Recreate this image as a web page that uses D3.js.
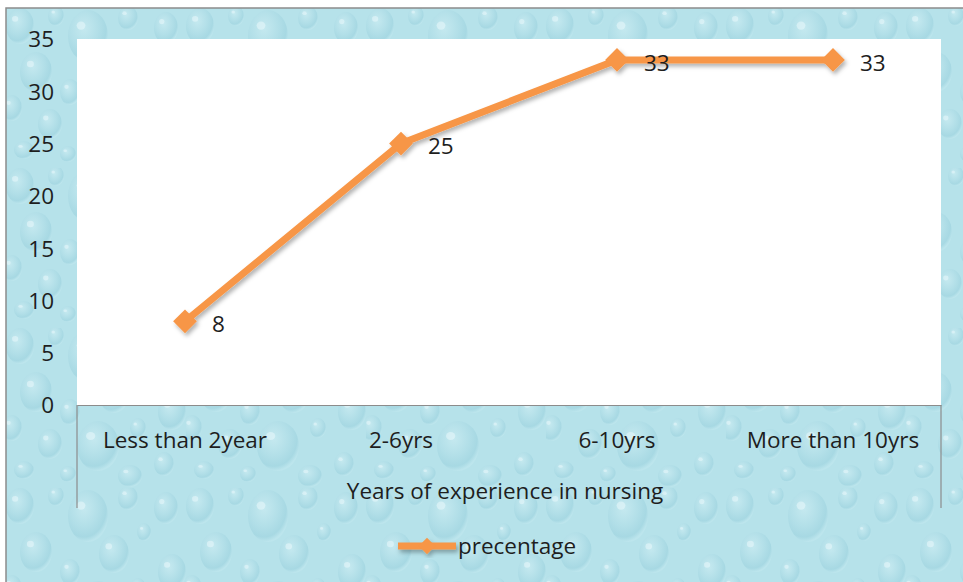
<!DOCTYPE html>
<html>
<head>
<meta charset="utf-8">
<script src="https://cdn.jsdelivr.net/npm/d3@7"></script>
<style>
  html, body { margin: 0; padding: 0; background: #ffffff; }
  svg { display: block; }
  text { font-family: "Open Sans", Lato, "Liberation Sans", sans-serif; fill: #1e1e1e; }
</style>
</head>
<body>
<svg id="chart" width="963" height="582"></svg>
<script>
// Experience groups and their share (%)
const categories = ["Less than 2year", "2-6yrs", "6-10yrs", "More than 10yrs"];
const percentage = [8, 25, 33, 33];
const yTicks = [0, 5, 10, 15, 20, 25, 30, 35];
const seriesName = "precentage";
const xTitle = "Years of experience in nursing";

// Decorative droplets for the background tile: [cx, cy, rx, ry]
const drops = [
  [14, 18, 14, 18], [50, 8, 8, 10], [82, 28, 20, 26], [122, 10, 10, 12],
  [30, 64, 16, 20], [64, 84, 10, 13], [108, 66, 15, 19], [6, 100, 10, 13],
  [44, 116, 12, 15], [92, 118, 21, 25], [132, 100, 8, 10], [138, 44, 7, 9],
  [18, 142, 10, 9], [62, 146, 8, 8], [124, 148, 12, 11], [160, 20, 12, 16],
  [166, 84, 14, 18], [158, 136, 10, 12]
];

const W = 963, H = 582;
const frame = { left: 6, top: 8 };
const plot = { left: 77, right: 941, top: 39, bottom: 405 };
const fontSize = 22.5;

const svg = d3.select("#chart");
const defs = svg.append("defs");

// Droplet gradient
const g1 = defs.append("radialGradient").attr("id", "drop").attr("cx", "40%").attr("cy", "35%").attr("r", "65%");
g1.append("stop").attr("offset", "0%").attr("stop-color", "#d4f0f5");
g1.append("stop").attr("offset", "55%").attr("stop-color", "#aedce6");
g1.append("stop").attr("offset", "85%").attr("stop-color", "#98cfdc");
g1.append("stop").attr("offset", "100%").attr("stop-color", "#c2e8ef");

const pat = defs.append("pattern").attr("id", "water").attr("patternUnits", "userSpaceOnUse")
  .attr("width", 180).attr("height", 160).attr("x", frame.left).attr("y", frame.top);
pat.append("rect").attr("width", 180).attr("height", 160).attr("fill", "#b6e2ea");
pat.selectAll("ellipse.d").data(drops).join("ellipse").attr("class", "d")
  .attr("cx", d => d[0]).attr("cy", d => d[1]).attr("rx", d => d[2]).attr("ry", d => d[3])
  .attr("fill", "url(#drop)").attr("opacity", 0.5);
pat.selectAll("ellipse.h").data(drops).join("ellipse").attr("class", "h")
  .attr("cx", d => d[0] - d[2] * 0.35).attr("cy", d => d[1] - d[3] * 0.4)
  .attr("rx", d => d[2] * 0.22).attr("ry", d => d[3] * 0.16)
  .attr("fill", "#e8f8fa").attr("opacity", 0.55);

// Soft shadow under the series
const f = defs.append("filter").attr("id", "shadow").attr("x", "-10%").attr("y", "-10%").attr("width", "130%").attr("height", "130%");
f.append("feDropShadow").attr("dx", 2).attr("dy", 3).attr("stdDeviation", 2)
  .attr("flood-color", "#000").attr("flood-opacity", 0.3);

// Chart frame
svg.append("rect").attr("x", frame.left).attr("y", frame.top)
  .attr("width", W - frame.left + 2).attr("height", H - frame.top + 2)
  .attr("fill", "url(#water)").attr("stroke", "#8c8c8c").attr("stroke-width", 1.5);

// Plot area
svg.append("rect").attr("x", plot.left).attr("y", plot.top)
  .attr("width", plot.right - plot.left).attr("height", plot.bottom - plot.top)
  .attr("fill", "#ffffff");

// Scales
const x = d3.scaleBand().domain(categories).range([plot.left, plot.right]).padding(0);
const y = d3.scaleLinear().domain([0, 35]).range([plot.bottom, plot.top]);

// Y axis labels
const yAxis = d3.axisLeft(y).tickValues(yTicks).tickSize(0).tickPadding(0);
const gy = svg.append("g").attr("transform", `translate(${54},0)`).call(yAxis);
gy.select(".domain").remove();
gy.selectAll("text").attr("font-size", fontSize).attr("fill", "#1e1e1e")
  .style("font-family", "'Open Sans', Lato, sans-serif").attr("dy", "0.35em");

// Category axis line and edge ticks
const gx = svg.append("g").attr("transform", `translate(0,${plot.bottom})`)
  .call(d3.axisBottom(x).tickSize(0).tickPadding(0));
gx.select(".domain").attr("stroke", "#8c8c8c").attr("stroke-width", 1.2);
gx.selectAll("text").attr("font-size", fontSize).attr("fill", "#1e1e1e").attr("y", 35)
  .attr("dy", "0.35em").style("font-family", "'Open Sans', Lato, sans-serif");
[plot.left, plot.right].forEach(px => {
  svg.append("line").attr("x1", px).attr("x2", px).attr("y1", plot.bottom).attr("y2", 508)
    .attr("stroke", "#8c8c8c").attr("stroke-width", 1.2);
});

// Axis title
svg.append("text").attr("x", (plot.left + plot.right) / 2 - 4).attr("y", 491).attr("dy", "0.35em")
  .attr("text-anchor", "middle").attr("font-size", fontSize).text(xTitle);

// Series
const orange = "#f79646";
const cx = d => x(d) + x.bandwidth() / 2;
const pts = categories.map((c, i) => ({ c, v: percentage[i] }));
const line = d3.line().x(d => cx(d.c)).y(d => y(d.v));
const series = svg.append("g").attr("filter", "url(#shadow)");
series.append("path").datum(pts).attr("d", line).attr("fill", "none")
  .attr("stroke", orange).attr("stroke-width", 7).attr("stroke-linejoin", "round");
const diamond = d3.symbol().type(d3.symbolDiamond2).size(360);
series.selectAll("path.m").data(pts).join("path").attr("class", "m")
  .attr("d", diamond).attr("transform", d => `translate(${cx(d.c)},${y(d.v)})`)
  .attr("fill", orange);

// Data labels
svg.selectAll("text.lbl").data(pts).join("text").attr("class", "lbl")
  .attr("x", d => cx(d.c) + 27).attr("y", d => y(d.v) + 3).attr("dy", "0.35em")
  .attr("font-size", fontSize).text(d => d.v);

// Legend
const lg = svg.append("g").attr("filter", "url(#shadow)");
lg.append("line").attr("x1", 398).attr("x2", 456).attr("y1", 546).attr("y2", 546)
  .attr("stroke", orange).attr("stroke-width", 7);
lg.append("path").attr("d", d3.symbol().type(d3.symbolDiamond2).size(170))
  .attr("transform", "translate(427,546)").attr("fill", orange);
svg.append("text").attr("x", 458).attr("y", 546).attr("dy", "0.35em")
  .attr("font-size", fontSize).text(seriesName);
</script>
</body>
</html>
